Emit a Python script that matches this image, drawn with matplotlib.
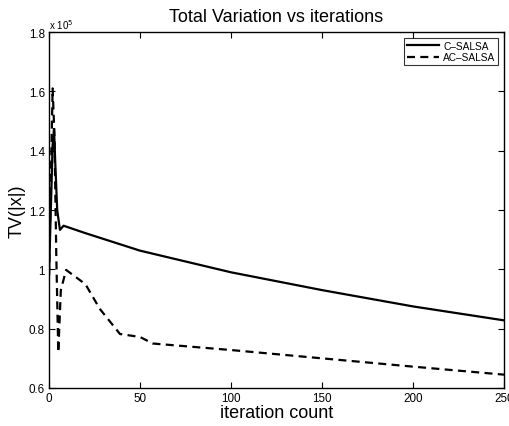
import matplotlib
matplotlib.use("Agg")
import matplotlib.pyplot as plt
from matplotlib.ticker import FuncFormatter

plt.rcParams['font.family'] = ['Liberation Sans', 'DejaVu Sans']

# values in units of 1e5
c_iter = [0, 1, 2, 2.75, 3.5, 4.5, 6, 7, 8, 20, 50, 100, 150, 200, 250]
c_tv = [0.98, 1.20, 1.42, 1.473, 1.35, 1.20, 1.133, 1.14, 1.147, 1.122, 1.063, 0.99, 0.93, 0.875, 0.828]

ac_iter = [0, 1, 2, 3, 4, 5.1, 6.5, 9.4, 20, 28, 39, 50, 57, 100, 150, 200, 250]
ac_tv = [0.98, 1.30, 1.61, 1.45, 1.05, 0.72, 0.93, 0.998, 0.95, 0.866, 0.782, 0.772, 0.75, 0.728, 0.70, 0.672, 0.645]

xticks = [0, 50, 100, 150, 200, 250]
yticks = [0.6, 0.8, 1.0, 1.2, 1.4, 1.6, 1.8]

fig = plt.figure(figsize=(5.09, 4.27), dpi=100)
ax = fig.add_axes([49/509, 1-389/427, (504-49)/509, (389-33)/427])

ax.plot(c_iter, c_tv, color='black', lw=1.6, label='C\u2013SALSA')
ax.plot(ac_iter, ac_tv, color='black', lw=1.6, ls=(0, (3.6, 2.4)), label='AC\u2013SALSA')

ax.set_xlim(0, 250)
ax.set_ylim(0.6, 1.8)
ax.set_xticks(xticks)
ax.set_yticks(yticks)
ax.yaxis.set_major_formatter(FuncFormatter(lambda v, p: '%g' % v))
ax.tick_params(direction='in', labelsize=8.4, length=4, width=0.8, top=True, right=True, pad=3)
for s in ax.spines.values():
    s.set_linewidth(1.0)

ax.set_title('Total Variation vs iterations', fontsize=13, pad=8)
ax.set_xlabel('iteration count', fontsize=13, labelpad=0)
ax.set_ylabel('TV(|x|)', fontsize=13, labelpad=2)
ax.text(0, 1.004, r'x 10$^5$', transform=ax.transAxes, fontsize=7, ha='left', va='bottom')

leg = ax.legend(loc='upper right', fontsize=7.3, handlelength=3.2, frameon=True, fancybox=False,
                edgecolor='black', borderpad=0.3, labelspacing=0.15, handletextpad=0.4,
                borderaxespad=0.55)
leg.get_frame().set_linewidth(0.8)

fig.savefig('out.png', dpi=100)
